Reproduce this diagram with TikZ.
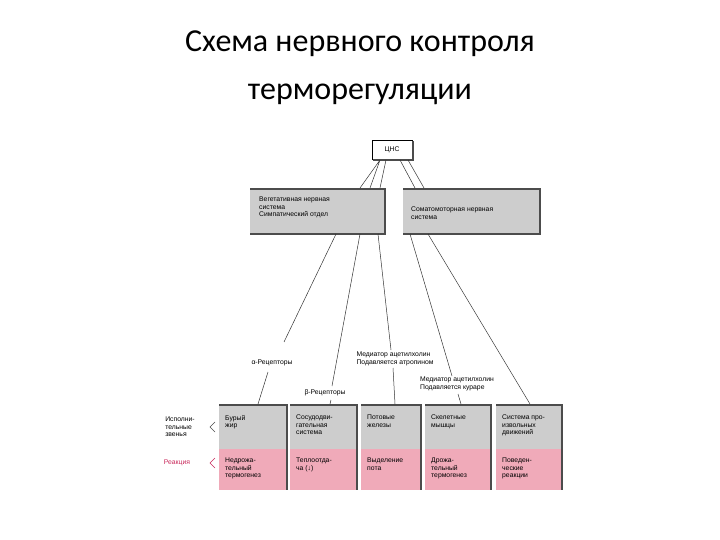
\documentclass[tikz,border=0pt]{standalone}
\usepackage{fontspec}
\setmainfont{Carlito}
\newfontfamily\smf{Liberation Sans}
\definecolor{gr}{RGB}{205,205,205}
\definecolor{pk}{RGB}{240,170,185}
\definecolor{rd}{RGB}{200,40,90}
\begin{document}
\begin{tikzpicture}[x=1pt,y=-1pt,
 tiny/.style={font=\smf\fontsize{6.8}{7.4}\selectfont,align=left,inner sep=1pt},
 ln/.style={line width=0.5pt,black!80}]
\useasboundingbox (0,0) rectangle (720,540);
\node[font=\fontsize{32}{48}\selectfont,align=center] (title) at (360,68) {Схема нервного контроля\\терморегуляции};
% CNS
\node[draw,line width=0.6pt,minimum width=40,minimum height=19,tiny] (cns) at (392,150) {ЦНС};
\draw[line width=2pt,black!70] (373,160)--(413,160)--(413,141);
% upper boxes
\fill[gr] (250,190) rectangle (385,233);
\draw[line width=2.5pt,black!70] (250,189)--(385,189)--(385,234)--(250,234);
\node[tiny,anchor=north west] (veg) at (258,196) {Вегетативная нервная\\система\\Симпатический отдел};
\fill[gr] (403,190) rectangle (540,233);
\draw[line width=2.5pt,black!70] (403,189)--(540,189)--(540,234)--(403,234);
\node[tiny,anchor=north west] (som) at (410,206) {Соматомоторная нервная\\система};
\coordinate (c1) at (380,160);\coordinate (c2) at (386,160);\coordinate (c3) at (400,160);
\draw[ln] (c1)--(360,188) (c1)--(370,188) (c2)--(380,188) (c3)--(415,188) (408,160)--(424,188);
% labels
\node[tiny] (alab) at (272,363) {α-Рецепторы};
\node[tiny] (blab) at (325,393) {β-Рецепторы};
\node[tiny] (m1) at (395,359) {Медиатор ацетилхолин\\Подавляется атропином};
\node[tiny] (m2) at (457,384) {Медиатор ацетилхолин\\Подавляется кураре};
% columns
\foreach \a/\b/\n/\t/\u in {219/287/k1/{Бурый\\жир}/{Недрожа-\\тельный\\термогенез},
 290/357/k2/{Сосудодви-\\гательная\\система}/{Теплоотда-\\ча (↓)},
 361/421/k3/{Потовые\\железы}/{Выделение\\пота},
 425/491/k4/{Скелетные\\мышцы}/{Дрожа-\\тельный\\термогенез},
 496/562/k5/{Система про-\\извольных\\движений}/{Поведен-\\ческие\\реакции}}{
 \fill[gr] (\a,405) rectangle (\b,449);
 \fill[pk] (\a,449) rectangle (\b,490);
 \draw[line width=2pt,black!70] (\a,405)--(\b,405)--(\b,490);
 \node[tiny,anchor=north west] (\n a) at (\a+5,414) {\t};
 \node[tiny,anchor=north west] (\n b) at (\a+5,457) {\u};
 \coordinate (\n) at ({(\a+\b)/2},404);
}
\draw[ln] (336,234)--(284,342) (268,372)--(258,404);
\draw[ln] (360,234)--(332,386) (331,400)--(330,404);
\draw[ln] (378,234)--(391,350) (393,368)--(395,404);
\draw[ln] (410,234)--(452,376) (458,394)--(461,404);
\draw[ln] (428,234)--(530,404);
\node[tiny] (ex) at (180,427) {Исполни-\\тельные\\звенья};
\node[tiny,text=rd] (re) at (177,463) {Реакция};
\draw[line width=0.6pt,black!70] (215,422)--(210,427)--(215,432);
\draw[line width=0.6pt,rd] (215,458)--(210,463)--(215,468);
\end{tikzpicture}
\end{document}
